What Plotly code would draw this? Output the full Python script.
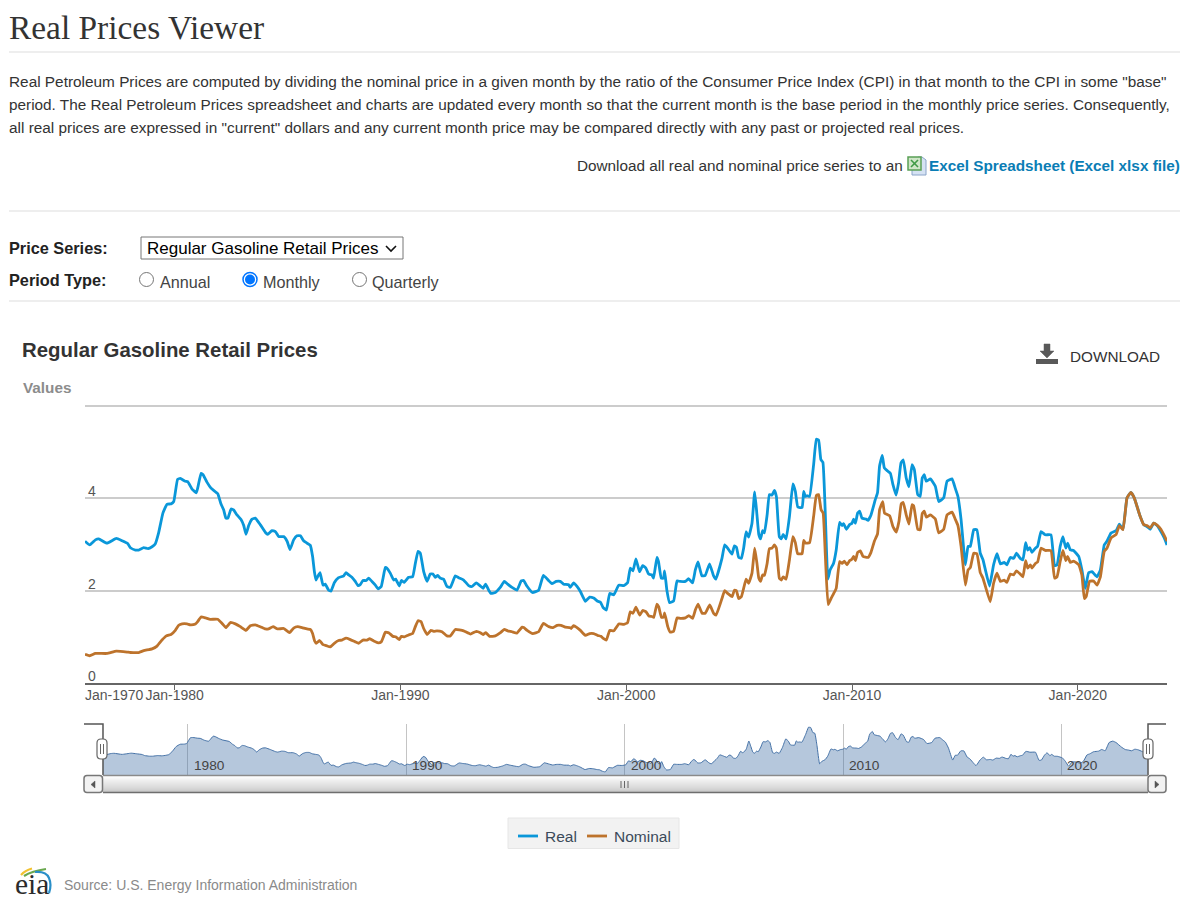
import plotly.graph_objects as go

# Monthly-ish turning points of the regular gasoline retail price, dollars per gallon
real_year = [
    1976.03, 1976.24, 1976.49, 1976.64, 1977.00, 1977.42, 1977.67, 1977.92, 1978.04, 1978.26, 1978.41, 1978.63,
    1978.82, 1979.00, 1979.14, 1979.29, 1979.48, 1979.66, 1979.84, 1979.96, 1980.13, 1980.25, 1980.47, 1980.58,
    1980.77, 1980.96, 1981.02, 1981.17, 1981.26, 1981.43, 1981.61, 1981.91, 1982.05, 1982.17, 1982.27, 1982.36,
    1982.50, 1982.61, 1982.76, 1982.94, 1983.06, 1983.16, 1983.28, 1983.43, 1983.57, 1983.79, 1984.02, 1984.12,
    1984.31, 1984.46, 1984.61, 1984.83, 1984.98, 1985.11, 1985.27, 1985.42, 1985.57, 1985.71, 1985.86, 1986.01,
    1986.11, 1986.19, 1986.26, 1986.33, 1986.44, 1986.57, 1986.67, 1986.82, 1986.92, 1987.07, 1987.26, 1987.49,
    1987.59, 1987.71, 1987.85, 1988.00, 1988.12, 1988.22, 1988.34, 1988.49, 1988.59, 1988.74, 1988.89, 1989.01,
    1989.15, 1989.23, 1989.33, 1989.40, 1989.55, 1989.70, 1989.79, 1989.95, 1990.04, 1990.17, 1990.36, 1990.54,
    1990.66, 1990.78, 1990.88, 1991.03, 1991.18, 1991.32, 1991.44, 1991.54, 1991.65, 1991.76, 1991.91, 1992.06,
    1992.21, 1992.43, 1992.58, 1992.80, 1993.02, 1993.17, 1993.36, 1993.54, 1993.66, 1993.77, 1993.91, 1994.01,
    1994.20, 1994.42, 1994.60, 1994.75, 1994.94, 1995.16, 1995.35, 1995.46, 1995.60, 1995.85, 1996.12, 1996.33,
    1996.56, 1996.71, 1996.90, 1997.08, 1997.23, 1997.45, 1997.52, 1997.67, 1997.82, 1997.97, 1998.19, 1998.38,
    1998.56, 1998.74, 1998.86, 1998.97, 1999.12, 1999.27, 1999.45, 1999.67, 1999.89, 2000.06, 2000.18, 2000.30,
    2000.43, 2000.59, 2000.73, 2000.87, 2000.99, 2001.14, 2001.21, 2001.36, 2001.43, 2001.55, 2001.65, 2001.70,
    2001.80, 2001.92, 2002.10, 2002.25, 2002.39, 2002.62, 2002.76, 2002.94, 2003.06, 2003.18, 2003.35, 2003.50,
    2003.69, 2003.87, 2003.97, 2004.24, 2004.36, 2004.49, 2004.68, 2004.79, 2004.88, 2004.98, 2005.10, 2005.20,
    2005.31, 2005.42, 2005.57, 2005.69, 2005.79, 2005.87, 2005.95, 2006.04, 2006.12, 2006.24, 2006.34, 2006.46,
    2006.56, 2006.65, 2006.78, 2006.87, 2006.95, 2007.08, 2007.23, 2007.38, 2007.49, 2007.60, 2007.79, 2007.86,
    2007.93, 2008.01, 2008.12, 2008.30, 2008.42, 2008.52, 2008.62, 2008.71, 2008.81, 2008.93, 2009.03, 2009.18,
    2009.30, 2009.45, 2009.56, 2009.63, 2009.75, 2009.89, 2010.00, 2010.07, 2010.15, 2010.25, 2010.34, 2010.44,
    2010.62, 2010.71, 2010.84, 2011.03, 2011.13, 2011.22, 2011.34, 2011.43, 2011.58, 2011.70, 2011.81, 2011.95,
    2012.06, 2012.17, 2012.27, 2012.40, 2012.52, 2012.66, 2012.76, 2012.91, 2013.02, 2013.11, 2013.20, 2013.29,
    2013.47, 2013.69, 2013.84, 2014.06, 2014.21, 2014.43, 2014.57, 2014.69, 2014.83, 2015.02, 2015.14, 2015.24,
    2015.39, 2015.53, 2015.68, 2015.80, 2016.09, 2016.27, 2016.42, 2016.57, 2016.74, 2016.86, 2017.01, 2017.16,
    2017.28, 2017.45, 2017.57, 2017.69, 2017.78, 2017.87, 2017.97, 2018.12, 2018.22, 2018.37, 2018.56, 2018.81,
    2018.97, 2019.08, 2019.22, 2019.34, 2019.47, 2019.55, 2019.67, 2019.81, 2020.04, 2020.18, 2020.33, 2020.48,
    2020.63, 2020.85, 2021.00, 2021.17, 2021.29, 2021.47, 2021.70, 2021.84, 2022.00, 2022.18, 2022.35, 2022.50,
    2022.74, 2022.92, 2023.06, 2023.21, 2023.36, 2023.51, 2023.68, 2023.83, 2023.95,
]
real_price = [
    3.07, 2.99, 3.10, 3.12, 3.03, 3.13, 3.08, 3.02, 2.93, 2.88, 2.88, 2.93,
    2.91, 2.95, 3.01, 3.25, 3.68, 3.87, 3.88, 3.93, 4.41, 4.43, 4.37, 4.36,
    4.20, 4.12, 4.22, 4.54, 4.51, 4.35, 4.22, 4.10, 3.88, 3.75, 3.57, 3.57,
    3.77, 3.75, 3.64, 3.54, 3.41, 3.22, 3.41, 3.55, 3.57, 3.43, 3.26, 3.22,
    3.30, 3.28, 3.17, 3.17, 3.07, 2.89, 3.10, 3.19, 3.19, 3.08, 3.03, 2.98,
    2.74, 2.41, 2.23, 2.30, 2.39, 2.12, 2.14, 2.01, 1.99, 2.17, 2.28, 2.32,
    2.39, 2.34, 2.29, 2.20, 2.11, 2.13, 2.22, 2.22, 2.27, 2.20, 2.12, 2.04,
    2.09, 2.27, 2.50, 2.49, 2.38, 2.23, 2.25, 2.10, 2.22, 2.18, 2.29, 2.30,
    2.59, 2.85, 2.81, 2.41, 2.20, 2.36, 2.36, 2.29, 2.33, 2.27, 2.25, 2.09,
    2.07, 2.32, 2.28, 2.23, 2.11, 2.09, 2.17, 2.10, 2.05, 2.14, 2.01, 1.94,
    1.96, 2.07, 2.20, 2.14, 2.07, 2.01, 2.21, 2.22, 2.10, 1.96, 2.01, 2.33,
    2.22, 2.15, 2.20, 2.20, 2.14, 2.13, 2.07, 2.17, 2.09, 1.98, 1.77, 1.86,
    1.84, 1.77, 1.75, 1.64, 1.58, 1.94, 1.91, 2.12, 2.11, 2.17, 2.49, 2.43,
    2.69, 2.41, 2.54, 2.49, 2.36, 2.34, 2.27, 2.72, 2.63, 2.27, 2.27, 2.43,
    2.01, 1.74, 1.78, 2.21, 2.20, 2.20, 2.26, 2.17, 2.45, 2.62, 2.32, 2.33,
    2.58, 2.32, 2.25, 2.70, 2.99, 2.92, 2.79, 2.97, 2.94, 2.72, 2.70, 2.92,
    3.28, 3.16, 3.46, 4.14, 3.64, 3.22, 3.12, 3.30, 3.25, 3.64, 4.08, 4.07,
    4.17, 4.04, 3.17, 3.12, 3.22, 3.12, 3.61, 4.31, 4.15, 3.81, 3.80, 4.15,
    4.04, 4.06, 4.04, 4.73, 5.28, 5.26, 4.84, 4.78, 3.75, 2.25, 2.45, 2.59,
    2.88, 3.48, 3.41, 3.45, 3.33, 3.43, 3.46, 3.55, 3.46, 3.68, 3.72, 3.57,
    3.55, 3.52, 3.64, 3.97, 4.12, 4.70, 4.93, 4.66, 4.59, 4.54, 4.30, 4.07,
    4.33, 4.77, 4.83, 4.44, 4.25, 4.73, 4.62, 4.08, 4.04, 4.44, 4.51, 4.37,
    4.42, 4.26, 3.93, 4.01, 4.37, 4.42, 4.22, 4.04, 3.54, 2.56, 2.96, 2.96,
    3.32, 3.32, 2.81, 2.67, 2.10, 2.56, 2.80, 2.58, 2.61, 2.56, 2.72, 2.70,
    2.81, 2.70, 2.67, 3.04, 2.88, 2.93, 2.83, 2.92, 2.96, 3.28, 3.21, 3.21,
    2.54, 2.56, 2.96, 3.17, 2.92, 3.03, 2.88, 2.87, 2.74, 2.45, 2.05, 2.39,
    2.41, 2.30, 2.45, 2.99, 3.07, 3.25, 3.30, 3.44, 3.33, 4.01, 4.13, 4.01,
    3.64, 3.43, 3.39, 3.33, 3.46, 3.41, 3.28, 3.14, 2.99,
]

nominal_year = [
    1976.03, 1976.24, 1976.49, 1977.00, 1977.42, 1977.89, 1978.04, 1978.41, 1978.63, 1979.00, 1979.22, 1979.44,
    1979.63, 1979.84, 1980.03, 1980.18, 1980.33, 1980.55, 1980.70, 1980.92, 1981.02, 1981.17, 1981.37, 1981.58,
    1981.91, 1982.10, 1982.27, 1982.47, 1982.69, 1982.91, 1983.16, 1983.35, 1983.57, 1983.79, 1984.02, 1984.16,
    1984.36, 1984.56, 1984.83, 1985.09, 1985.27, 1985.45, 1985.64, 1985.86, 1986.01, 1986.11, 1986.20, 1986.27,
    1986.42, 1986.57, 1986.72, 1986.89, 1987.07, 1987.26, 1987.41, 1987.59, 1987.78, 1988.00, 1988.15, 1988.34,
    1988.52, 1988.64, 1988.82, 1989.01, 1989.15, 1989.23, 1989.33, 1989.48, 1989.67, 1989.79, 1989.95, 1990.04,
    1990.17, 1990.36, 1990.54, 1990.66, 1990.78, 1990.91, 1991.03, 1991.18, 1991.35, 1991.47, 1991.62, 1991.84,
    1992.06, 1992.21, 1992.43, 1992.80, 1993.10, 1993.36, 1993.54, 1993.66, 1993.78, 1993.95, 1994.20, 1994.43,
    1994.60, 1994.75, 1994.94, 1995.16, 1995.39, 1995.46, 1995.61, 1995.86, 1996.12, 1996.33, 1996.57, 1996.76,
    1996.94, 1997.11, 1997.30, 1997.50, 1997.56, 1997.67, 1997.82, 1997.97, 1998.19, 1998.38, 1998.56, 1998.74,
    1998.88, 1999.00, 1999.12, 1999.27, 1999.45, 1999.67, 1999.89, 2000.06, 2000.18, 2000.30, 2000.43, 2000.60,
    2000.73, 2000.88, 2001.00, 2001.14, 2001.22, 2001.36, 2001.44, 2001.56, 2001.66, 2001.70, 2001.84, 2001.95,
    2002.10, 2002.25, 2002.40, 2002.62, 2002.77, 2002.94, 2003.06, 2003.18, 2003.36, 2003.50, 2003.70, 2003.87,
    2003.98, 2004.24, 2004.36, 2004.49, 2004.69, 2004.79, 2004.88, 2004.98, 2005.10, 2005.20, 2005.31, 2005.42,
    2005.57, 2005.69, 2005.79, 2005.87, 2005.95, 2006.04, 2006.12, 2006.24, 2006.34, 2006.46, 2006.56, 2006.65,
    2006.78, 2006.87, 2006.95, 2007.08, 2007.23, 2007.38, 2007.49, 2007.59, 2007.79, 2007.86, 2007.93, 2008.12,
    2008.30, 2008.42, 2008.52, 2008.63, 2008.72, 2008.82, 2008.94, 2009.07, 2009.19, 2009.30, 2009.45, 2009.56,
    2009.66, 2009.78, 2009.89, 2010.00, 2010.07, 2010.15, 2010.25, 2010.37, 2010.49, 2010.71, 2010.84, 2010.99,
    2011.13, 2011.22, 2011.36, 2011.44, 2011.67, 2011.81, 2011.96, 2012.08, 2012.18, 2012.27, 2012.40, 2012.52,
    2012.66, 2012.73, 2012.91, 2013.02, 2013.11, 2013.20, 2013.29, 2013.47, 2013.69, 2013.84, 2014.06, 2014.21,
    2014.43, 2014.57, 2014.69, 2014.83, 2015.02, 2015.14, 2015.24, 2015.39, 2015.53, 2015.68, 2015.80, 2016.12,
    2016.27, 2016.42, 2016.57, 2016.74, 2016.86, 2017.01, 2017.16, 2017.28, 2017.45, 2017.57, 2017.69, 2017.78,
    2017.90, 2017.97, 2018.12, 2018.22, 2018.37, 2018.56, 2018.81, 2018.97, 2019.08, 2019.22, 2019.34, 2019.47,
    2019.55, 2019.67, 2019.81, 2020.04, 2020.18, 2020.29, 2020.37, 2020.52, 2020.70, 2020.85, 2021.00, 2021.17,
    2021.29, 2021.47, 2021.70, 2021.84, 2022.00, 2022.18, 2022.35, 2022.50, 2022.74, 2022.92, 2023.06, 2023.21,
    2023.36, 2023.51, 2023.68, 2023.83, 2023.95,
]
nominal_price = [
    0.62, 0.59, 0.64, 0.64, 0.69, 0.67, 0.66, 0.66, 0.70, 0.74, 0.80, 0.93,
    1.02, 1.05, 1.14, 1.25, 1.28, 1.28, 1.26, 1.28, 1.33, 1.43, 1.41, 1.38,
    1.38, 1.29, 1.20, 1.31, 1.28, 1.22, 1.14, 1.24, 1.26, 1.22, 1.17, 1.17,
    1.22, 1.17, 1.18, 1.09, 1.19, 1.22, 1.20, 1.17, 1.16, 1.07, 0.91, 0.86,
    0.92, 0.83, 0.81, 0.78, 0.86, 0.92, 0.93, 0.97, 0.94, 0.89, 0.86, 0.93,
    0.93, 0.96, 0.91, 0.87, 0.89, 0.98, 1.10, 1.09, 1.01, 1.00, 0.94, 1.01,
    1.00, 1.04, 1.07, 1.22, 1.35, 1.33, 1.18, 1.05, 1.14, 1.12, 1.13, 1.11,
    1.02, 1.02, 1.16, 1.13, 1.06, 1.12, 1.09, 1.05, 1.09, 1.01, 1.02, 1.09,
    1.16, 1.13, 1.11, 1.08, 1.21, 1.20, 1.14, 1.07, 1.11, 1.29, 1.22, 1.20,
    1.25, 1.25, 1.21, 1.20, 1.18, 1.24, 1.20, 1.14, 1.03, 1.07, 1.07, 1.03,
    1.01, 0.96, 0.93, 1.14, 1.13, 1.28, 1.27, 1.31, 1.54, 1.51, 1.64, 1.47,
    1.57, 1.54, 1.45, 1.44, 1.42, 1.71, 1.65, 1.42, 1.43, 1.52, 1.22, 1.10,
    1.12, 1.41, 1.40, 1.41, 1.46, 1.40, 1.58, 1.71, 1.51, 1.51, 1.69, 1.51,
    1.47, 1.83, 2.00, 1.94, 1.87, 2.01, 2.00, 1.83, 1.87, 2.05, 2.25, 2.16,
    2.38, 2.92, 2.59, 2.27, 2.20, 2.34, 2.33, 2.59, 2.91, 2.92, 2.99, 2.92,
    2.27, 2.23, 2.30, 2.25, 2.67, 3.17, 3.04, 2.80, 2.80, 3.09, 3.03, 3.04,
    3.61, 4.06, 4.08, 3.75, 3.68, 2.74, 1.70, 1.83, 1.94, 2.05, 2.63, 2.59,
    2.64, 2.56, 2.65, 2.68, 2.74, 2.65, 2.83, 2.86, 2.74, 2.72, 2.83, 3.07,
    3.23, 3.75, 3.93, 3.68, 3.62, 3.39, 3.27, 3.50, 3.88, 3.91, 3.64, 3.44,
    3.86, 3.84, 3.33, 3.32, 3.67, 3.72, 3.59, 3.64, 3.55, 3.25, 3.33, 3.64,
    3.70, 3.55, 3.41, 2.96, 2.12, 2.45, 2.50, 2.81, 2.80, 2.39, 2.27, 1.76,
    2.16, 2.38, 2.20, 2.23, 2.18, 2.36, 2.34, 2.43, 2.36, 2.30, 2.65, 2.49,
    2.56, 2.49, 2.59, 2.62, 2.92, 2.87, 2.87, 2.27, 2.30, 2.63, 2.87, 2.65,
    2.74, 2.61, 2.64, 2.56, 2.34, 1.83, 1.87, 2.20, 2.21, 2.12, 2.30, 2.85,
    2.92, 3.14, 3.22, 3.41, 3.32, 4.01, 4.13, 4.01, 3.64, 3.43, 3.41, 3.36,
    3.46, 3.42, 3.33, 3.19, 3.07,
]

decade_ticks = [1980, 1990, 2000, 2010, 2020]
decade_labels = ["Jan-1980", "Jan-1990", "Jan-2000", "Jan-2010", "Jan-2020"]
navigator_labels = ["1980", "1990", "2000", "2010", "2020"]
price_ticks = [0, 2, 4]

body_lines = [
    'Real Petroleum Prices are computed by dividing the nominal price in a given month by the ratio of the Consumer Price Index (CPI) in that month to the CPI in some "base"',
    'period. The Real Petroleum Prices spreadsheet and charts are updated every month so that the current month is the base period in the monthly price series. Consequently,',
    'all real prices are expressed in "current" dollars and any current month price may be compared directly with any past or projected real prices.',
]

W, H = 1200, 906
SANS = "Liberation Sans, Arial, sans-serif"
SERIF = "Liberation Serif, Times New Roman, serif"
REAL_COLOR = "#0a97d9"
NOMINAL_COLOR = "#bd732c"


def px(x):
    return x / W


def py(y):
    return 1 - y / H


annotations = []
shapes = []


def label(x, y, text, size=16, color="#333333", family=SANS, anchor="left"):
    annotations.append(dict(
        x=px(x), y=py(y), xref="paper", yref="paper", text=text, showarrow=False,
        xanchor=anchor, yanchor="middle", align="left", borderpad=0, borderwidth=0,
        font=dict(size=size, color=color, family=family),
    ))


def rect(x0, y0, x1, y1, fill="rgba(0,0,0,0)", line=None, width=1, layer="above"):
    shapes.append(dict(
        type="rect", xref="paper", yref="paper", layer=layer,
        x0=px(x0), x1=px(x1), y0=py(y0), y1=py(y1), fillcolor=fill,
        line=dict(color=line or "rgba(0,0,0,0)", width=width if line else 0),
    ))


def segment(x0, y0, x1, y1, color, width=1):
    shapes.append(dict(
        type="line", xref="paper", yref="paper", layer="above",
        x0=px(x0), x1=px(x1), y0=py(y0), y1=py(y1), line=dict(color=color, width=width),
    ))


def circle(cx, cy, r, fill="rgba(0,0,0,0)", line=None, width=1):
    shapes.append(dict(
        type="circle", xref="paper", yref="paper", layer="above",
        x0=px(cx - r), x1=px(cx + r), y0=py(cy - r), y1=py(cy + r), fillcolor=fill,
        line=dict(color=line or "rgba(0,0,0,0)", width=width if line else 0),
    ))


def outline(points, color, width=1, fill=None, closed=False):
    # points: (x, y) for a straight leg, (cx, cy, x, y) for a quadratic leg
    parts = []
    for i, p in enumerate(points):
        if len(p) == 2:
            parts.append(f"{'M' if i == 0 else 'L'} {px(p[0]):.5f} {py(p[1]):.5f}")
        else:
            parts.append(f"Q {px(p[0]):.5f} {py(p[1]):.5f} {px(p[2]):.5f} {py(p[3]):.5f}")
    if closed:
        parts.append("Z")
    shapes.append(dict(
        type="path", xref="paper", yref="paper", layer="above", path=" ".join(parts),
        fillcolor=fill or "rgba(0,0,0,0)", line=dict(color=color, width=width),
    ))


def rounded(x0, y0, x1, y1, r, color, width=1, fill="#ffffff"):
    outline([
        (x0 + r, y0), (x1 - r, y0), (x1, y0, x1, y0 + r), (x1, y1 - r), (x1, y1, x1 - r, y1),
        (x0 + r, y1), (x0, y1, x0, y1 - r), (x0, y0 + r), (x0, y0, x0 + r, y0),
    ], color, width, fill, True)


# Page heading and introduction
label(9, 27, "Real Prices Viewer", 33.4, "#333333", SERIF)
for rule_y in (52, 211, 301):
    segment(9, rule_y, 1180, rule_y, "#dddddd", 1)
for line_y, line_text, line_size in zip((81.5, 104.5, 127.5), body_lines, (15.36, 15.33, 15.36)):
    label(9, line_y, line_text, line_size)

label(577, 165.5, "Download all real and nominal price series to an", 15.3)
label(929, 165.5, "<b>Excel Spreadsheet (Excel xlsx file)</b>", 15.3, "#0a7db5")

# Spreadsheet icon
outline([(912, 162), (912, 175), (926, 175), (926, 160), (922, 157), (918, 157)], "#8aa4c8", 1, "#d5e2f3", True)
rect(908, 157, 921, 170, "#cfe6c8", "#5aa055", 1.5)
outline([(911, 160), (918, 167)], "#3f9a45", 1.6)
outline([(918, 160), (911, 167)], "#3f9a45", 1.6)

# Form controls
label(9, 248, "<b>Price Series:</b>", 16.3, "#222222")
rect(141, 237, 403, 259, "#ffffff", "#767676", 1)
label(147, 248, "Regular Gasoline Retail Prices", 17, "#000000")
outline([(386, 246), (391, 251), (396, 246)], "#111111", 1.6)

label(9, 280, "<b>Period Type:</b>", 16.3, "#222222")
circle(146.5, 279.5, 7, "#ffffff", "#767676", 1)
label(160, 282, "Annual", 16.2, "#444444")
circle(250, 279.5, 7, "#ffffff", "#0075ff", 1.5)
circle(250, 279.5, 5, "#0075ff")
label(263, 282, "Monthly", 16.2, "#444444")
circle(359.5, 279.5, 7, "#ffffff", "#767676", 1)
label(372, 282, "Quarterly", 16.2, "#444444")

# Chart header
label(22, 350, "<b>Regular Gasoline Retail Prices</b>", 20.4, "#333333")
label(23, 388, "<b>Values</b>", 15.3, "#8c8c8c")
label(1070, 356, "DOWNLOAD", 15.3, "#333333")
outline([(1044, 344), (1050, 344), (1050, 351), (1054, 351), (1047, 358), (1040, 351), (1044, 351)],
        "#595959", 0.5, "#595959", True)
rect(1036, 359, 1058, 364, "#595959")

# Labels that sit on the main plot
label(85, 695, "Jan-1970", 14, "#555555")
for tick in price_ticks:
    annotations.append(dict(
        x=px(86.5), y=tick, xref="paper", yref="y", text=str(tick), showarrow=False,
        xanchor="left", yanchor="bottom", yshift=-2, borderpad=0,
        font=dict(size=14, color="#555555", family=SANS),
    ))

# Navigator tick captions and end brackets
for tick, caption in zip(decade_ticks, navigator_labels):
    annotations.append(dict(
        x=tick, y=py(765), xref="x2", yref="paper", text=caption, showarrow=False,
        xanchor="left", yanchor="middle", xshift=5, borderpad=0,
        font=dict(size=13.7, color="#444444", family=SANS),
    ))
outline([(84, 724), (103, 724), (103, 775)], "#555555", 1.5)
outline([(1166, 724), (1148, 724), (1148, 775)], "#555555", 1.5)

# Scrollbar under the navigator, drawn as a vertical gradient in thin strips
strip_tones = ["#ffffff", "#fbfbfb", "#f7f7f7", "#f3f3f3", "#efefef", "#ececec", "#e9e9e9", "#e6e6e6",
               "#e3e3e3", "#e0e0e0", "#dddddd", "#dadada", "#d6d6d6", "#d2d2d2", "#cdcdcd", "#c8c8c8"]
for i, tone in enumerate(strip_tones):
    rect(103, 776 + i, 1148, 777 + i, tone)
segment(103, 775.5, 1148, 775.5, "#8a8a8a", 1.5)
segment(103, 792.5, 1148, 792.5, "#6e6e6e", 1.5)
rounded(84, 775.5, 102.5, 792.5, 3, "#777777", 1.5, "#f2f2f2")
rounded(1148, 775.5, 1166, 792.5, 3, "#777777", 1.5, "#f2f2f2")
outline([(95, 781), (95, 788), (91, 784.5)], "#555555", 0.5, "#555555", True)
outline([(1155, 781), (1155, 788), (1159, 784.5)], "#555555", 0.5, "#555555", True)
for grip in (621, 624.5, 628):
    segment(grip, 781, grip, 788, "#666666", 1)

# Navigator grab handles
for cx in (102, 1148):
    rounded(cx - 5, 739, cx + 5, 759, 4, "#666666", 1.2, "#ffffff")
    segment(cx - 1.5, 744, cx - 1.5, 754, "#666666", 1)
    segment(cx + 1.5, 744, cx + 1.5, 754, "#666666", 1)

# Legend box under the scrollbar
rect(508, 818, 679, 848.5, "#f2f2f2", "#e6e6e6", 1)
segment(518, 836, 538, 836, REAL_COLOR, 2.8)
label(545, 836, "Real", 15.5, "#3b4a5a")
segment(587, 836, 607, 836, NOMINAL_COLOR, 2.8)
label(614, 836, "Nominal", 15.5, "#3b4a5a")

# Source line with agency mark
label(64, 885, "Source: U.S. Energy Information Administration", 14, "#8a8a8a")
label(15, 884, "eia", 29.5, "#2b2b2b", SERIF)
outline([(21, 875), (25, 870.5, 32, 868.5)], "#f2c230", 2.2)
outline([(24, 876), (32, 871, 46, 869)], "#6aa84f", 2.2)
outline([(35, 872), (46, 871, 49, 878), (52, 885, 49, 893)], "#2a8fc8", 2.2)

fig = go.Figure()
fig.add_trace(go.Scatter(
    x=real_year, y=real_price, name="Real", mode="lines", xaxis="x", yaxis="y",
    line=dict(color=REAL_COLOR, width=2.8, shape="spline", smoothing=0.35),
))
fig.add_trace(go.Scatter(
    x=nominal_year, y=nominal_price, name="Nominal", mode="lines", xaxis="x", yaxis="y",
    line=dict(color=NOMINAL_COLOR, width=2.8, shape="spline", smoothing=0.35),
))
fig.add_trace(go.Scatter(
    x=real_year, y=real_price, mode="lines", xaxis="x2", yaxis="y2",
    fill="tozeroy", fillcolor="rgba(69,114,167,0.4)",
    line=dict(color="#4572a7", width=1, shape="spline", smoothing=0.35),
))

fig.update_layout(
    width=W, height=H, autosize=False, margin=dict(l=0, r=0, t=0, b=0),
    paper_bgcolor="#ffffff", plot_bgcolor="#ffffff", hovermode=False, showlegend=False,
    font=dict(family=SANS, color="#333333"),
    xaxis=dict(
        domain=[px(85), px(1167)], range=[1976.03, 2023.95], anchor="y",
        tickmode="array", tickvals=decade_ticks, ticktext=decade_labels,
        ticks="outside", ticklen=5, tickwidth=1, tickcolor="#666666", ticklabelstandoff=-7,
        tickfont=dict(size=14, color="#555555", family=SANS),
        showgrid=False, zeroline=False, showline=True, linecolor="#666666", linewidth=1.5,
    ),
    yaxis=dict(
        # Top of the range runs slightly past 6 so its gridline is still drawn
        domain=[py(683), py(404.1)], range=[0, 6.04], anchor="x", dtick=2,
        showticklabels=False, ticks="", gridcolor="#cccccc", gridwidth=1.5,
        zeroline=False, showline=False,
    ),
    xaxis2=dict(
        domain=[px(103), px(1148)], range=[1976.13, 2023.96], anchor="y2",
        tickmode="array", tickvals=decade_ticks, showticklabels=False, ticks="",
        showgrid=True, gridcolor="#c4c4c4", gridwidth=1, zeroline=False, showline=False,
    ),
    yaxis2=dict(
        domain=[py(775), py(724)], range=[1.32, 5.55], anchor="x2",
        showticklabels=False, ticks="", showgrid=False, zeroline=False, showline=False,
    ),
    annotations=annotations,
    shapes=shapes,
)

fig.write_html("out.html", config=dict(displayModeBar=False))
